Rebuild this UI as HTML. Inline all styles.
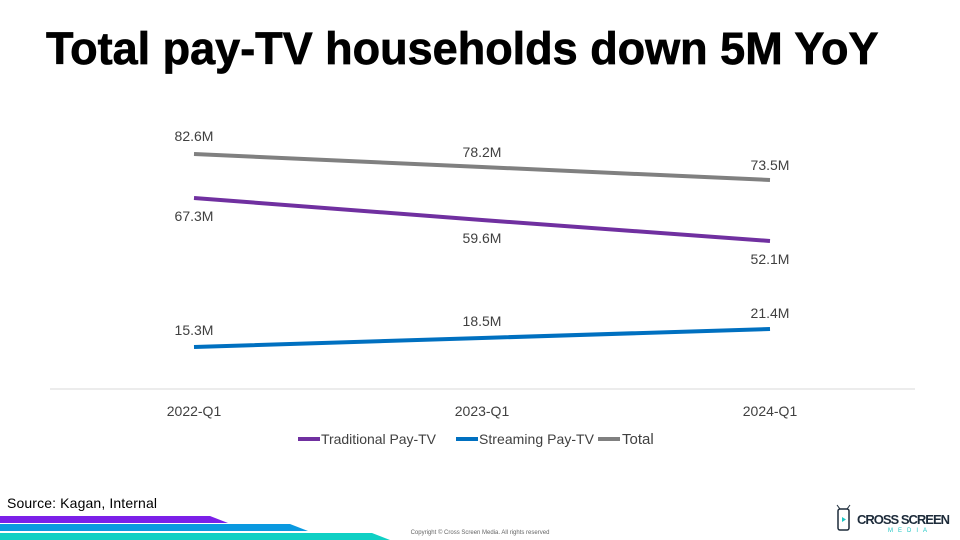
<!DOCTYPE html>
<html><head><style>
body{margin:0;width:960px;height:540px;background:#fff;overflow:hidden;font-family:"Liberation Sans",sans-serif}
</style></head><body>
<svg width="960" height="540" xmlns="http://www.w3.org/2000/svg" style="position:absolute;left:0;top:0">
<text x="46" y="64" font-size="45" font-weight="bold" fill="#000" font-family="Liberation Sans" stroke="#000" stroke-width="0.7">Total pay-TV households down 5M YoY</text>
<line x1="50" y1="389" x2="915" y2="389" stroke="#d9d9d9" stroke-width="1"/>
<polyline points="194,154 482,167 770,180" fill="none" stroke="#808080" stroke-width="4"/>
<polyline points="194,198 482,220 770,241" fill="none" stroke="#7030a0" stroke-width="4"/>
<polyline points="194,347 482,338 770,329" fill="none" stroke="#0070c0" stroke-width="4"/>
<g font-size="14" fill="#404040" text-anchor="middle" font-family="Liberation Sans">
<text x="194" y="141">82.6M</text><text x="482" y="157">78.2M</text><text x="770" y="170">73.5M</text>
<text x="194" y="221">67.3M</text><text x="482" y="243">59.6M</text><text x="770" y="264">52.1M</text>
<text x="194" y="335">15.3M</text><text x="482" y="326">18.5M</text><text x="770" y="318">21.4M</text>
<text x="194" y="416">2022-Q1</text><text x="482" y="416">2023-Q1</text><text x="770" y="416">2024-Q1</text>
</g>
<g font-size="14" fill="#404040" font-family="Liberation Sans">
<line x1="298" y1="439" x2="320" y2="439" stroke="#7030a0" stroke-width="4"/><text x="321" y="444" textLength="115">Traditional Pay-TV</text>
<line x1="456" y1="439" x2="478" y2="439" stroke="#0070c0" stroke-width="4"/><text x="479" y="444" textLength="115">Streaming Pay-TV</text>
<line x1="598" y1="439" x2="620" y2="439" stroke="#808080" stroke-width="4"/><text x="622" y="444" font-size="15">Total</text>
</g>
<text x="7" y="508" font-size="14" fill="#000" font-family="Liberation Sans" textLength="150">Source: Kagan, Internal</text>
<polygon points="0,516 210,516 228,523 0,523" fill="#7b1fe8"/>
<polygon points="0,524 290,524 308,531 0,531" fill="#0a99e0"/>
<polygon points="0,533 372,533 390,540 0,540" fill="#0fd0c4"/>
<text x="480" y="534" font-size="6" fill="#666" text-anchor="middle" font-family="Liberation Sans">Copyright © Cross Screen Media. All rights reserved</text>
<rect x="838" y="509" width="11" height="21" rx="2" fill="none" stroke="#1d2b3a" stroke-width="1.5"/>
<line x1="840" y1="509" x2="837" y2="505" stroke="#1d2b3a" stroke-width="1"/>
<line x1="847" y1="509" x2="850" y2="505" stroke="#1d2b3a" stroke-width="1"/>
<polygon points="842,517 846,519.5 842,522" fill="#1fc7c4"/>
<text x="857" y="524" font-size="13" font-weight="bold" fill="#1d2b3a" font-family="Liberation Sans" textLength="93">CROSS SCREEN</text>
<text x="888" y="532" font-size="6" fill="#1fc7c4" letter-spacing="5" font-family="Liberation Sans">MEDIA</text>
</svg>
</body></html>
